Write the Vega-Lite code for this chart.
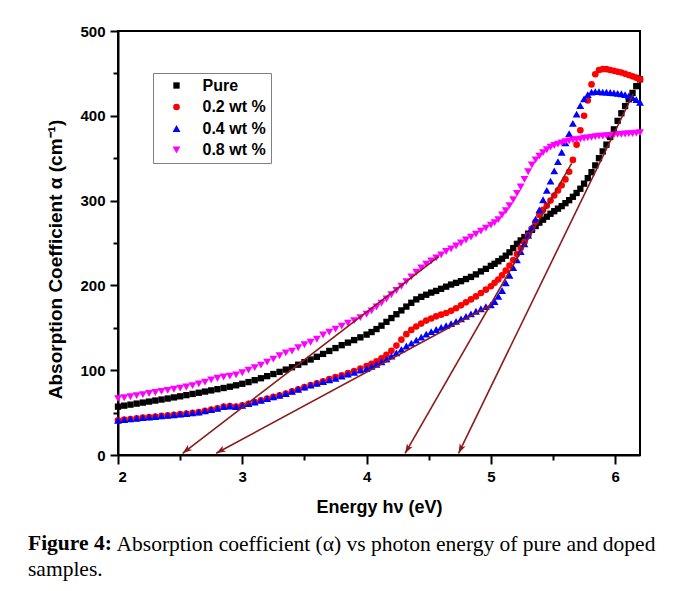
{
"$schema":"https://vega.github.io/schema/vega-lite/v6.json",
"width":522,"height":424,
"autosize":{"type":"none"},
"padding":{"left":118,"top":31,"right":33,"bottom":136},
"background":"white",
"config":{
"view":{"stroke":"black","strokeWidth":2},
"axis":{"domainColor":"black","domainWidth":2,"tickColor":"black","tickWidth":2,"labelColor":"black","labelFont":"Liberation Sans","labelFontWeight":"bold","labelFontSize":15,"titleFont":"Liberation Sans","titleFontWeight":"bold","titleColor":"black","grid":false}
},
"title":{"text":"Figure 4:","subtitle":"samples.","orient":"bottom","anchor":"start","frame":"group","dx":-90,"offset":-22,"font":"Liberation Serif","fontSize":21.5,"fontWeight":"bold","color":"black","subtitleFont":"Liberation Serif","subtitleFontSize":21.5,"subtitleFontWeight":"normal","subtitleColor":"black","subtitlePadding":5},
"datasets":{
"arrows":[{"id":1,"x1":4.58,"y1":234,"x2":2.52,"y2":2},{"id":2,"x1":4.99,"y1":176,"x2":2.79,"y2":2},{"id":3,"x1":5.65,"y1":344,"x2":4.31,"y2":2},{"id":4,"x1":6.146,"y1":426,"x2":4.74,"y2":2}],
"curves":[
{"s":"Pure","e":2,"a":57},{"s":"Pure","e":2.05,"a":58.2},{"s":"Pure","e":2.1,"a":59.4},{"s":"Pure","e":2.15,"a":60.6},{"s":"Pure","e":2.2,"a":61.8},{"s":"Pure","e":2.25,"a":63},{"s":"Pure","e":2.3,"a":64.2},{"s":"Pure","e":2.35,"a":65.4},{"s":"Pure","e":2.4,"a":66.6},{"s":"Pure","e":2.45,"a":67.9},{"s":"Pure","e":2.5,"a":69.2},{"s":"Pure","e":2.55,"a":70.6},{"s":"Pure","e":2.6,"a":72},{"s":"Pure","e":2.65,"a":73.4},{"s":"Pure","e":2.7,"a":74.8},{"s":"Pure","e":2.75,"a":76.2},{"s":"Pure","e":2.8,"a":77.6},{"s":"Pure","e":2.85,"a":79},{"s":"Pure","e":2.9,"a":80.5},{"s":"Pure","e":2.95,"a":82.2},{"s":"Pure","e":3,"a":84},{"s":"Pure","e":3.05,"a":86},{"s":"Pure","e":3.1,"a":88.2},{"s":"Pure","e":3.15,"a":90.5},{"s":"Pure","e":3.2,"a":93},{"s":"Pure","e":3.25,"a":95.5},{"s":"Pure","e":3.3,"a":98},{"s":"Pure","e":3.35,"a":100.7},{"s":"Pure","e":3.4,"a":103.5},{"s":"Pure","e":3.45,"a":106.5},{"s":"Pure","e":3.5,"a":109.5},{"s":"Pure","e":3.55,"a":112.6},{"s":"Pure","e":3.6,"a":115.8},{"s":"Pure","e":3.65,"a":119.2},{"s":"Pure","e":3.7,"a":122.7},{"s":"Pure","e":3.75,"a":126.1},{"s":"Pure","e":3.8,"a":129.5},{"s":"Pure","e":3.85,"a":132.5},{"s":"Pure","e":3.9,"a":135.5},{"s":"Pure","e":3.95,"a":138.7},{"s":"Pure","e":4,"a":142},
{"s":"Pure","e":4.04,"a":145},{"s":"Pure","e":4.08,"a":148.5},{"s":"Pure","e":4.12,"a":152.5},{"s":"Pure","e":4.16,"a":157},{"s":"Pure","e":4.2,"a":161.5},{"s":"Pure","e":4.24,"a":166},{"s":"Pure","e":4.28,"a":170.5},{"s":"Pure","e":4.32,"a":175},{"s":"Pure","e":4.36,"a":179.5},{"s":"Pure","e":4.4,"a":183.5},{"s":"Pure","e":4.44,"a":186.5},{"s":"Pure","e":4.48,"a":189},{"s":"Pure","e":4.52,"a":191.5},{"s":"Pure","e":4.56,"a":193.5},{"s":"Pure","e":4.6,"a":196},{"s":"Pure","e":4.64,"a":198.5},{"s":"Pure","e":4.68,"a":201},{"s":"Pure","e":4.72,"a":203},{"s":"Pure","e":4.76,"a":205},{"s":"Pure","e":4.8,"a":207.5},{"s":"Pure","e":4.84,"a":210},{"s":"Pure","e":4.88,"a":213},{"s":"Pure","e":4.92,"a":216.5},{"s":"Pure","e":4.96,"a":219.5},{"s":"Pure","e":5,"a":223},
{"s":"Pure","e":5.03,"a":225.5},{"s":"Pure","e":5.06,"a":228.5},{"s":"Pure","e":5.09,"a":231.5},{"s":"Pure","e":5.12,"a":235},{"s":"Pure","e":5.15,"a":239},{"s":"Pure","e":5.18,"a":244},{"s":"Pure","e":5.21,"a":249},{"s":"Pure","e":5.24,"a":253},{"s":"Pure","e":5.27,"a":257},{"s":"Pure","e":5.3,"a":261},{"s":"Pure","e":5.33,"a":265.5},{"s":"Pure","e":5.36,"a":270},{"s":"Pure","e":5.39,"a":274},{"s":"Pure","e":5.42,"a":277.5},{"s":"Pure","e":5.45,"a":281},{"s":"Pure","e":5.48,"a":284.5},{"s":"Pure","e":5.51,"a":287.5},{"s":"Pure","e":5.54,"a":290.5},{"s":"Pure","e":5.57,"a":293.5},{"s":"Pure","e":5.6,"a":297},{"s":"Pure","e":5.63,"a":300.5},{"s":"Pure","e":5.66,"a":304.5},{"s":"Pure","e":5.69,"a":309},{"s":"Pure","e":5.72,"a":314},{"s":"Pure","e":5.75,"a":320},{"s":"Pure","e":5.78,"a":326.5},{"s":"Pure","e":5.81,"a":333.5},{"s":"Pure","e":5.84,"a":341.5},{"s":"Pure","e":5.87,"a":350},{"s":"Pure","e":5.9,"a":358},{"s":"Pure","e":5.93,"a":366},{"s":"Pure","e":5.96,"a":375},{"s":"Pure","e":5.99,"a":384},{"s":"Pure","e":6.02,"a":394},{"s":"Pure","e":6.05,"a":403},{"s":"Pure","e":6.08,"a":411.5},{"s":"Pure","e":6.11,"a":419.5},{"s":"Pure","e":6.14,"a":427},{"s":"Pure","e":6.17,"a":435},{"s":"Pure","e":6.2,"a":443},
{"s":"0.2 wt %","e":2,"a":41},{"s":"0.2 wt %","e":2.05,"a":41.8},{"s":"0.2 wt %","e":2.1,"a":42.5},{"s":"0.2 wt %","e":2.15,"a":43.2},{"s":"0.2 wt %","e":2.2,"a":44},{"s":"0.2 wt %","e":2.25,"a":44.7},{"s":"0.2 wt %","e":2.3,"a":45.4},{"s":"0.2 wt %","e":2.35,"a":46.1},{"s":"0.2 wt %","e":2.4,"a":46.8},{"s":"0.2 wt %","e":2.45,"a":47.5},{"s":"0.2 wt %","e":2.5,"a":48.2},{"s":"0.2 wt %","e":2.55,"a":48.9},{"s":"0.2 wt %","e":2.6,"a":49.6},{"s":"0.2 wt %","e":2.65,"a":50.5},{"s":"0.2 wt %","e":2.7,"a":52},{"s":"0.2 wt %","e":2.75,"a":53.5},{"s":"0.2 wt %","e":2.8,"a":55},{"s":"0.2 wt %","e":2.85,"a":57},{"s":"0.2 wt %","e":2.9,"a":57.8},{"s":"0.2 wt %","e":2.95,"a":57},{"s":"0.2 wt %","e":3,"a":58.5},{"s":"0.2 wt %","e":3.05,"a":60.5},{"s":"0.2 wt %","e":3.1,"a":62.5},{"s":"0.2 wt %","e":3.15,"a":64.5},{"s":"0.2 wt %","e":3.2,"a":66.5},{"s":"0.2 wt %","e":3.25,"a":68.5},{"s":"0.2 wt %","e":3.3,"a":70.5},{"s":"0.2 wt %","e":3.35,"a":72.5},{"s":"0.2 wt %","e":3.4,"a":75},{"s":"0.2 wt %","e":3.45,"a":77.5},{"s":"0.2 wt %","e":3.5,"a":80},{"s":"0.2 wt %","e":3.55,"a":82.5},{"s":"0.2 wt %","e":3.6,"a":84.5},{"s":"0.2 wt %","e":3.65,"a":87},{"s":"0.2 wt %","e":3.7,"a":89.5},{"s":"0.2 wt %","e":3.75,"a":92},{"s":"0.2 wt %","e":3.8,"a":94},{"s":"0.2 wt %","e":3.85,"a":96.5},{"s":"0.2 wt %","e":3.9,"a":99},{"s":"0.2 wt %","e":3.95,"a":102},{"s":"0.2 wt %","e":4,"a":105},
{"s":"0.2 wt %","e":4.04,"a":107.5},{"s":"0.2 wt %","e":4.08,"a":110.5},{"s":"0.2 wt %","e":4.12,"a":114},{"s":"0.2 wt %","e":4.16,"a":118},{"s":"0.2 wt %","e":4.2,"a":123},{"s":"0.2 wt %","e":4.24,"a":129},{"s":"0.2 wt %","e":4.28,"a":136},{"s":"0.2 wt %","e":4.32,"a":142.5},{"s":"0.2 wt %","e":4.36,"a":147.5},{"s":"0.2 wt %","e":4.4,"a":151.5},{"s":"0.2 wt %","e":4.44,"a":155},{"s":"0.2 wt %","e":4.48,"a":158.5},{"s":"0.2 wt %","e":4.52,"a":161},{"s":"0.2 wt %","e":4.56,"a":163.5},{"s":"0.2 wt %","e":4.6,"a":165.5},{"s":"0.2 wt %","e":4.64,"a":167.5},{"s":"0.2 wt %","e":4.68,"a":170},{"s":"0.2 wt %","e":4.72,"a":173},{"s":"0.2 wt %","e":4.76,"a":176.5},{"s":"0.2 wt %","e":4.8,"a":180},{"s":"0.2 wt %","e":4.84,"a":183.5},{"s":"0.2 wt %","e":4.88,"a":187},{"s":"0.2 wt %","e":4.92,"a":191},{"s":"0.2 wt %","e":4.96,"a":195},{"s":"0.2 wt %","e":5,"a":199},
{"s":"0.2 wt %","e":5.03,"a":203},{"s":"0.2 wt %","e":5.06,"a":207},{"s":"0.2 wt %","e":5.09,"a":212},{"s":"0.2 wt %","e":5.12,"a":217.5},{"s":"0.2 wt %","e":5.15,"a":223.5},{"s":"0.2 wt %","e":5.18,"a":230},{"s":"0.2 wt %","e":5.21,"a":237},{"s":"0.2 wt %","e":5.24,"a":244},{"s":"0.2 wt %","e":5.27,"a":251},{"s":"0.2 wt %","e":5.3,"a":259},{"s":"0.2 wt %","e":5.33,"a":267},{"s":"0.2 wt %","e":5.36,"a":275},{"s":"0.2 wt %","e":5.39,"a":283},{"s":"0.2 wt %","e":5.42,"a":289},{"s":"0.2 wt %","e":5.45,"a":294},{"s":"0.2 wt %","e":5.48,"a":300},{"s":"0.2 wt %","e":5.51,"a":306},{"s":"0.2 wt %","e":5.54,"a":312},{"s":"0.2 wt %","e":5.57,"a":318},{"s":"0.2 wt %","e":5.6,"a":325},{"s":"0.2 wt %","e":5.63,"a":334},{"s":"0.2 wt %","e":5.66,"a":348},{"s":"0.2 wt %","e":5.69,"a":366},{"s":"0.2 wt %","e":5.72,"a":383},{"s":"0.2 wt %","e":5.75,"a":400},{"s":"0.2 wt %","e":5.78,"a":418},{"s":"0.2 wt %","e":5.81,"a":437},{"s":"0.2 wt %","e":5.84,"a":449},{"s":"0.2 wt %","e":5.87,"a":454},{"s":"0.2 wt %","e":5.9,"a":455},{"s":"0.2 wt %","e":5.93,"a":455},{"s":"0.2 wt %","e":5.96,"a":454},{"s":"0.2 wt %","e":5.99,"a":453},{"s":"0.2 wt %","e":6.02,"a":452},{"s":"0.2 wt %","e":6.05,"a":451},{"s":"0.2 wt %","e":6.08,"a":449.5},{"s":"0.2 wt %","e":6.11,"a":448},{"s":"0.2 wt %","e":6.14,"a":446.5},{"s":"0.2 wt %","e":6.17,"a":445},{"s":"0.2 wt %","e":6.2,"a":443},
{"s":"0.4 wt %","e":2,"a":41},{"s":"0.4 wt %","e":2.05,"a":41.8},{"s":"0.4 wt %","e":2.1,"a":42.5},{"s":"0.4 wt %","e":2.15,"a":43.2},{"s":"0.4 wt %","e":2.2,"a":44},{"s":"0.4 wt %","e":2.25,"a":44.7},{"s":"0.4 wt %","e":2.3,"a":45.4},{"s":"0.4 wt %","e":2.35,"a":46.1},{"s":"0.4 wt %","e":2.4,"a":46.8},{"s":"0.4 wt %","e":2.45,"a":47.5},{"s":"0.4 wt %","e":2.5,"a":48.2},{"s":"0.4 wt %","e":2.55,"a":48.9},{"s":"0.4 wt %","e":2.6,"a":49.6},{"s":"0.4 wt %","e":2.65,"a":50.5},{"s":"0.4 wt %","e":2.7,"a":52},{"s":"0.4 wt %","e":2.75,"a":53.5},{"s":"0.4 wt %","e":2.8,"a":55},{"s":"0.4 wt %","e":2.85,"a":57},{"s":"0.4 wt %","e":2.9,"a":57.8},{"s":"0.4 wt %","e":2.95,"a":57},{"s":"0.4 wt %","e":3,"a":58.5},{"s":"0.4 wt %","e":3.05,"a":60.5},{"s":"0.4 wt %","e":3.1,"a":62.5},{"s":"0.4 wt %","e":3.15,"a":64.5},{"s":"0.4 wt %","e":3.2,"a":66.5},{"s":"0.4 wt %","e":3.25,"a":68.5},{"s":"0.4 wt %","e":3.3,"a":70.5},{"s":"0.4 wt %","e":3.35,"a":72.5},{"s":"0.4 wt %","e":3.4,"a":75},{"s":"0.4 wt %","e":3.45,"a":77.5},{"s":"0.4 wt %","e":3.5,"a":80},{"s":"0.4 wt %","e":3.55,"a":82.5},{"s":"0.4 wt %","e":3.6,"a":84.5},{"s":"0.4 wt %","e":3.65,"a":86.5},{"s":"0.4 wt %","e":3.7,"a":88.5},{"s":"0.4 wt %","e":3.75,"a":90.5},{"s":"0.4 wt %","e":3.8,"a":93},{"s":"0.4 wt %","e":3.85,"a":95.5},{"s":"0.4 wt %","e":3.9,"a":97.5},{"s":"0.4 wt %","e":3.95,"a":100},{"s":"0.4 wt %","e":4,"a":102},
{"s":"0.4 wt %","e":4.04,"a":104.5},{"s":"0.4 wt %","e":4.08,"a":107},{"s":"0.4 wt %","e":4.12,"a":110},{"s":"0.4 wt %","e":4.16,"a":113},{"s":"0.4 wt %","e":4.2,"a":116.5},{"s":"0.4 wt %","e":4.24,"a":120.5},{"s":"0.4 wt %","e":4.28,"a":124.5},{"s":"0.4 wt %","e":4.32,"a":128.5},{"s":"0.4 wt %","e":4.36,"a":132},{"s":"0.4 wt %","e":4.4,"a":135.5},{"s":"0.4 wt %","e":4.44,"a":139},{"s":"0.4 wt %","e":4.48,"a":142.5},{"s":"0.4 wt %","e":4.52,"a":145.5},{"s":"0.4 wt %","e":4.56,"a":148},{"s":"0.4 wt %","e":4.6,"a":150.5},{"s":"0.4 wt %","e":4.64,"a":152.5},{"s":"0.4 wt %","e":4.68,"a":155},{"s":"0.4 wt %","e":4.72,"a":157.5},{"s":"0.4 wt %","e":4.76,"a":160.5},{"s":"0.4 wt %","e":4.8,"a":163.5},{"s":"0.4 wt %","e":4.84,"a":166.5},{"s":"0.4 wt %","e":4.88,"a":169.5},{"s":"0.4 wt %","e":4.92,"a":172.5},{"s":"0.4 wt %","e":4.96,"a":175},{"s":"0.4 wt %","e":5,"a":177},
{"s":"0.4 wt %","e":5.03,"a":181},{"s":"0.4 wt %","e":5.06,"a":187},{"s":"0.4 wt %","e":5.09,"a":194},{"s":"0.4 wt %","e":5.12,"a":203},{"s":"0.4 wt %","e":5.15,"a":212},{"s":"0.4 wt %","e":5.18,"a":221},{"s":"0.4 wt %","e":5.21,"a":230},{"s":"0.4 wt %","e":5.24,"a":240},{"s":"0.4 wt %","e":5.27,"a":249},{"s":"0.4 wt %","e":5.3,"a":259},{"s":"0.4 wt %","e":5.33,"a":268},{"s":"0.4 wt %","e":5.36,"a":278},{"s":"0.4 wt %","e":5.39,"a":289},{"s":"0.4 wt %","e":5.42,"a":301},{"s":"0.4 wt %","e":5.45,"a":312},{"s":"0.4 wt %","e":5.48,"a":323},{"s":"0.4 wt %","e":5.51,"a":335},{"s":"0.4 wt %","e":5.54,"a":346},{"s":"0.4 wt %","e":5.57,"a":357},{"s":"0.4 wt %","e":5.6,"a":368},{"s":"0.4 wt %","e":5.63,"a":379},{"s":"0.4 wt %","e":5.66,"a":391},{"s":"0.4 wt %","e":5.69,"a":402},{"s":"0.4 wt %","e":5.72,"a":412},{"s":"0.4 wt %","e":5.75,"a":420},{"s":"0.4 wt %","e":5.78,"a":425},{"s":"0.4 wt %","e":5.81,"a":428},{"s":"0.4 wt %","e":5.84,"a":428.5},{"s":"0.4 wt %","e":5.87,"a":428.5},{"s":"0.4 wt %","e":5.9,"a":428},{"s":"0.4 wt %","e":5.93,"a":428},{"s":"0.4 wt %","e":5.96,"a":427.5},{"s":"0.4 wt %","e":5.99,"a":427},{"s":"0.4 wt %","e":6.02,"a":426.5},{"s":"0.4 wt %","e":6.05,"a":426},{"s":"0.4 wt %","e":6.08,"a":425},{"s":"0.4 wt %","e":6.11,"a":423.5},{"s":"0.4 wt %","e":6.14,"a":421.5},{"s":"0.4 wt %","e":6.17,"a":419},{"s":"0.4 wt %","e":6.2,"a":416},
{"s":"0.8 wt %","e":2,"a":66.5},{"s":"0.8 wt %","e":2.05,"a":67.5},{"s":"0.8 wt %","e":2.1,"a":68.7},{"s":"0.8 wt %","e":2.15,"a":70},{"s":"0.8 wt %","e":2.2,"a":71.2},{"s":"0.8 wt %","e":2.25,"a":72.5},{"s":"0.8 wt %","e":2.3,"a":73.7},{"s":"0.8 wt %","e":2.35,"a":75},{"s":"0.8 wt %","e":2.4,"a":76.2},{"s":"0.8 wt %","e":2.45,"a":77.5},{"s":"0.8 wt %","e":2.5,"a":78.8},{"s":"0.8 wt %","e":2.55,"a":80.2},{"s":"0.8 wt %","e":2.6,"a":81.8},{"s":"0.8 wt %","e":2.65,"a":83.8},{"s":"0.8 wt %","e":2.7,"a":86},{"s":"0.8 wt %","e":2.75,"a":88.5},{"s":"0.8 wt %","e":2.8,"a":90.5},{"s":"0.8 wt %","e":2.85,"a":92},{"s":"0.8 wt %","e":2.9,"a":93},{"s":"0.8 wt %","e":2.95,"a":94.5},{"s":"0.8 wt %","e":3,"a":97},{"s":"0.8 wt %","e":3.05,"a":100},{"s":"0.8 wt %","e":3.1,"a":103},{"s":"0.8 wt %","e":3.15,"a":106},{"s":"0.8 wt %","e":3.2,"a":109.5},{"s":"0.8 wt %","e":3.25,"a":113},{"s":"0.8 wt %","e":3.3,"a":117},{"s":"0.8 wt %","e":3.35,"a":120.5},{"s":"0.8 wt %","e":3.4,"a":122.5},{"s":"0.8 wt %","e":3.45,"a":126.5},{"s":"0.8 wt %","e":3.5,"a":130},{"s":"0.8 wt %","e":3.55,"a":133},{"s":"0.8 wt %","e":3.6,"a":136.5},{"s":"0.8 wt %","e":3.65,"a":141.5},{"s":"0.8 wt %","e":3.7,"a":145},{"s":"0.8 wt %","e":3.75,"a":148.5},{"s":"0.8 wt %","e":3.8,"a":152},{"s":"0.8 wt %","e":3.85,"a":155.5},{"s":"0.8 wt %","e":3.9,"a":158.5},{"s":"0.8 wt %","e":3.95,"a":162},{"s":"0.8 wt %","e":4,"a":166},
{"s":"0.8 wt %","e":4.04,"a":170},{"s":"0.8 wt %","e":4.08,"a":174.5},{"s":"0.8 wt %","e":4.12,"a":179},{"s":"0.8 wt %","e":4.16,"a":184},{"s":"0.8 wt %","e":4.2,"a":189},{"s":"0.8 wt %","e":4.24,"a":194},{"s":"0.8 wt %","e":4.28,"a":199},{"s":"0.8 wt %","e":4.32,"a":204.5},{"s":"0.8 wt %","e":4.36,"a":210},{"s":"0.8 wt %","e":4.4,"a":215.5},{"s":"0.8 wt %","e":4.44,"a":220.5},{"s":"0.8 wt %","e":4.48,"a":225},{"s":"0.8 wt %","e":4.52,"a":229},{"s":"0.8 wt %","e":4.56,"a":232.5},{"s":"0.8 wt %","e":4.6,"a":236},{"s":"0.8 wt %","e":4.64,"a":240},{"s":"0.8 wt %","e":4.68,"a":243},{"s":"0.8 wt %","e":4.72,"a":246.5},{"s":"0.8 wt %","e":4.76,"a":250},{"s":"0.8 wt %","e":4.8,"a":253.5},{"s":"0.8 wt %","e":4.84,"a":257},{"s":"0.8 wt %","e":4.88,"a":260.5},{"s":"0.8 wt %","e":4.92,"a":264},{"s":"0.8 wt %","e":4.96,"a":267.5},{"s":"0.8 wt %","e":5,"a":271},
{"s":"0.8 wt %","e":5.03,"a":274},{"s":"0.8 wt %","e":5.06,"a":277.5},{"s":"0.8 wt %","e":5.09,"a":283},{"s":"0.8 wt %","e":5.12,"a":288},{"s":"0.8 wt %","e":5.15,"a":294},{"s":"0.8 wt %","e":5.18,"a":301},{"s":"0.8 wt %","e":5.21,"a":308.5},{"s":"0.8 wt %","e":5.24,"a":316},{"s":"0.8 wt %","e":5.27,"a":325},{"s":"0.8 wt %","e":5.3,"a":334},{"s":"0.8 wt %","e":5.33,"a":342},{"s":"0.8 wt %","e":5.36,"a":348},{"s":"0.8 wt %","e":5.39,"a":352.5},{"s":"0.8 wt %","e":5.42,"a":356.5},{"s":"0.8 wt %","e":5.45,"a":360},{"s":"0.8 wt %","e":5.48,"a":363},{"s":"0.8 wt %","e":5.51,"a":365},{"s":"0.8 wt %","e":5.54,"a":366.5},{"s":"0.8 wt %","e":5.57,"a":368},{"s":"0.8 wt %","e":5.6,"a":369.5},{"s":"0.8 wt %","e":5.63,"a":370.5},{"s":"0.8 wt %","e":5.66,"a":371.5},{"s":"0.8 wt %","e":5.69,"a":372},{"s":"0.8 wt %","e":5.72,"a":372.5},{"s":"0.8 wt %","e":5.75,"a":373.5},{"s":"0.8 wt %","e":5.78,"a":374},{"s":"0.8 wt %","e":5.81,"a":374.5},{"s":"0.8 wt %","e":5.84,"a":375.5},{"s":"0.8 wt %","e":5.87,"a":376},{"s":"0.8 wt %","e":5.9,"a":376},{"s":"0.8 wt %","e":5.93,"a":376.5},{"s":"0.8 wt %","e":5.96,"a":377},{"s":"0.8 wt %","e":5.99,"a":377.5},{"s":"0.8 wt %","e":6.02,"a":378},{"s":"0.8 wt %","e":6.05,"a":378},{"s":"0.8 wt %","e":6.08,"a":378.5},{"s":"0.8 wt %","e":6.11,"a":379},{"s":"0.8 wt %","e":6.14,"a":379},{"s":"0.8 wt %","e":6.17,"a":379.5},{"s":"0.8 wt %","e":6.2,"a":380}
]},
"layer":[
{"data":{"name":"curves"},
 "mark":{"type":"point","filled":true,"opacity":1},
 "encoding":{
  "x":{"field":"e","type":"quantitative","scale":{"domain":[2,6.2],"nice":false,"zero":false},
   "axis":{"orient":"bottom","values":[2,2.5,3,3.5,4,4.5,5,5.5,6],"labelExpr":"datum.value % 1 === 0 ? '' + datum.value : ''","tickSize":{"condition":{"test":"datum.value % 1 === 0","value":9},"value":5},"labelPadding":5,"title":"Energy hν (eV)","titleFontSize":18,"titleX":261,"titleY":57,"titleAlign":"center","titleBaseline":"alphabetic"}},
  "y":{"field":"a","type":"quantitative","scale":{"domain":[0,500],"nice":false,"zero":true},
   "axis":{"values":[0,50,100,150,200,250,300,350,400,450,500],"labelExpr":"datum.value % 100 === 0 ? datum.label : ''","tickSize":{"condition":{"test":"datum.value % 100 === 0","value":8},"value":5},"labelPadding":5,"title":"Absorption Coefficient α (cm⁻¹)","titleFontSize":19,"titleX":-63,"titleY":228,"titleAngle":-90,"titleAlign":"center","titleBaseline":"middle"}},
  "color":{"field":"s","type":"nominal","scale":{"domain":["Pure","0.2 wt %","0.4 wt %","0.8 wt %"],"range":["#000000","#ff0000","#0000ff","#ff00ff"]},
   "legend":{"orient":"none","legendX":35,"legendY":42,"title":null,"strokeColor":"#808080","fillColor":"white","padding":4.5,"symbolOffset":11,"labelOffset":18,"labelFont":"Liberation Sans","labelFontWeight":"bold","labelFontSize":16,"labelColor":"black","symbolSize":30,"rowPadding":5.5}},
  "shape":{"field":"s","type":"nominal","scale":{"domain":["Pure","0.2 wt %","0.4 wt %","0.8 wt %"],"range":["square","circle","triangle-up","triangle-down"]}},
  "size":{"field":"s","type":"nominal","scale":{"type":"ordinal","domain":["Pure","0.2 wt %","0.4 wt %","0.8 wt %"],"range":[40,44,62,62]},"legend":null}
 }},
{"data":{"name":"arrows"},
 "mark":{"type":"rule","color":"#8b1a1a","strokeWidth":1.6},
 "encoding":{
  "x":{"field":"x1","type":"quantitative","scale":{"domain":[2,6.2],"nice":false,"zero":false},
   "axis":{"orient":"bottom","domain":false,"ticks":false,"labels":false,"grid":false,"title":"Absorption coefficient (α) vs photon energy of pure and doped","titleFont":"Liberation Serif","titleFontWeight":"normal","titleFontSize":21.5,"titleX":-2,"titleY":95,"titleAlign":"left","titleBaseline":"alphabetic","titleColor":"black"}},
  "x2":{"field":"x2"},
  "y":{"field":"y1","type":"quantitative","scale":{"domain":[0,500],"nice":false},"axis":{"title":"Absorption Coefficient α (cm⁻¹)"}},
  "y2":{"field":"y2"}
 }},
{"data":{"name":"arrows"},
 "mark":{"type":"point","shape":"M0,0L-0.35,-1L0,-0.75L0.35,-1Z","filled":true,"opacity":1,"color":"#8b1a1a","size":360},
 "encoding":{
  "x":{"field":"x2","type":"quantitative","scale":{"domain":[2,6.2],"nice":false,"zero":false},"axis":null},
  "y":{"field":"y2","type":"quantitative","scale":{"domain":[0,500],"nice":false},"axis":{"title":"Absorption Coefficient α (cm⁻¹)"}},
  "angle":{"field":"id","type":"nominal","scale":{"type":"ordinal","domain":[1,2,3,4],"range":[52,61,30,26]},"legend":null}
 }}
],
"resolve":{"scale":{"x":"independent"},"axis":{"x":"independent"}}
}
